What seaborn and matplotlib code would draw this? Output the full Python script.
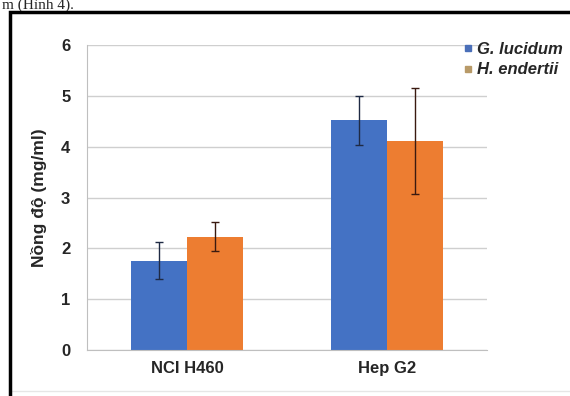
import matplotlib
matplotlib.use("Agg")
import matplotlib.pyplot as plt
from matplotlib.lines import Line2D
from matplotlib.patches import Rectangle
import seaborn as sns
import pandas as pd

# values
cell_lines = ["NCI H460", "Hep G2"]
species = ["G. lucidum", "H. endertii"]
g_lucidum = [1.76, 4.52]
h_endertii = [2.23, 4.11]
g_lucidum_err = [0.36, 0.48]
h_endertii_err = [0.29, 1.05]
yticks = [0, 1, 2, 3, 4, 5, 6]

df = pd.DataFrame({
    "cell": cell_lines * 2,
    "species": [species[0]] * 2 + [species[1]] * 2,
    "value": g_lucidum + h_endertii,
})
errs = g_lucidum_err + h_endertii_err

sns.set_style("white")
plt.rcParams["font.family"] = ["Liberation Sans", "DejaVu Sans"]

colors = ["#4472C4", "#ED7D31"]
fig = plt.figure(figsize=(5.7, 3.96), dpi=100)
ax = fig.add_axes([87 / 570, 1 - 350 / 396, 400 / 570, 305 / 396])

sns.barplot(data=df, x="cell", y="value", hue="species", palette=colors,
            width=0.56, gap=0, errorbar=None, saturation=1, legend=False,
            linewidth=0, ax=ax)

# error bars on each bar
bars = [p for p in ax.patches if p.get_height() > 0]
ebcol = ["#1f2a44", "#1f2a44", "#3a1a10", "#3a1a10"]
for p, e, c in zip(bars, errs, ebcol):
    ax.errorbar(p.get_x() + p.get_width() / 2, p.get_height(), yerr=e,
                fmt="none", ecolor=c, elinewidth=1, capsize=3, capthick=1)

ax.set_ylim(0, 6)
ax.set_xlim(-0.5, 1.5)
ax.set_yticks(yticks)
ax.yaxis.grid(True, color="#cfcfcf", linewidth=1)
ax.set_axisbelow(True)
for s in ["top", "right"]:
    ax.spines[s].set_visible(False)
ax.spines["left"].set_color("#bfbfbf")
ax.spines["bottom"].set_color("#bfbfbf")
ax.tick_params(axis="y", length=5, color="#bfbfbf", labelsize=12, pad=7)
ax.tick_params(axis="x", length=0, labelsize=12, pad=8)
for t in ax.get_xticklabels() + ax.get_yticklabels():
    t.set_fontweight("bold")
    t.set_color("#262626")
ax.set_xlabel("")
ax.set_ylabel("Nồng độ (mg/ml)", fontsize=12.5, fontweight="bold", color="#262626", labelpad=10)

handles = [Line2D([], [], marker="s", linestyle="", color=c, markersize=5) for c in ["#4a6fb8", "#b89a68"]]
fig.legend(handles, species, loc="upper left", bbox_to_anchor=(455 / 570, 1 - 35 / 396),
           frameon=False, prop={"style": "italic", "weight": "bold", "size": 12},
           handletextpad=0.1, handlelength=0.8, labelspacing=0.35, borderaxespad=0)

# frame of the figure box in the document (right and bottom run off the crop)
fig.add_artist(Rectangle((10 / 570, -0.05), 1.0, 1.05 - 12 / 396, transform=fig.transFigure,
                         fill=False, edgecolor="black", linewidth=2.5, zorder=10))
fig.add_artist(Line2D([11 / 570, 1], [1 - 391 / 396, 1 - 391 / 396], color="#e6e6e6", linewidth=1))
fig.text(0.003, 1 - 9 / 396, "m (Hình 4).", family=["Liberation Serif", "DejaVu Serif"],
         fontsize=11, va="baseline", ha="left")

fig.savefig("out.png", dpi=100)
